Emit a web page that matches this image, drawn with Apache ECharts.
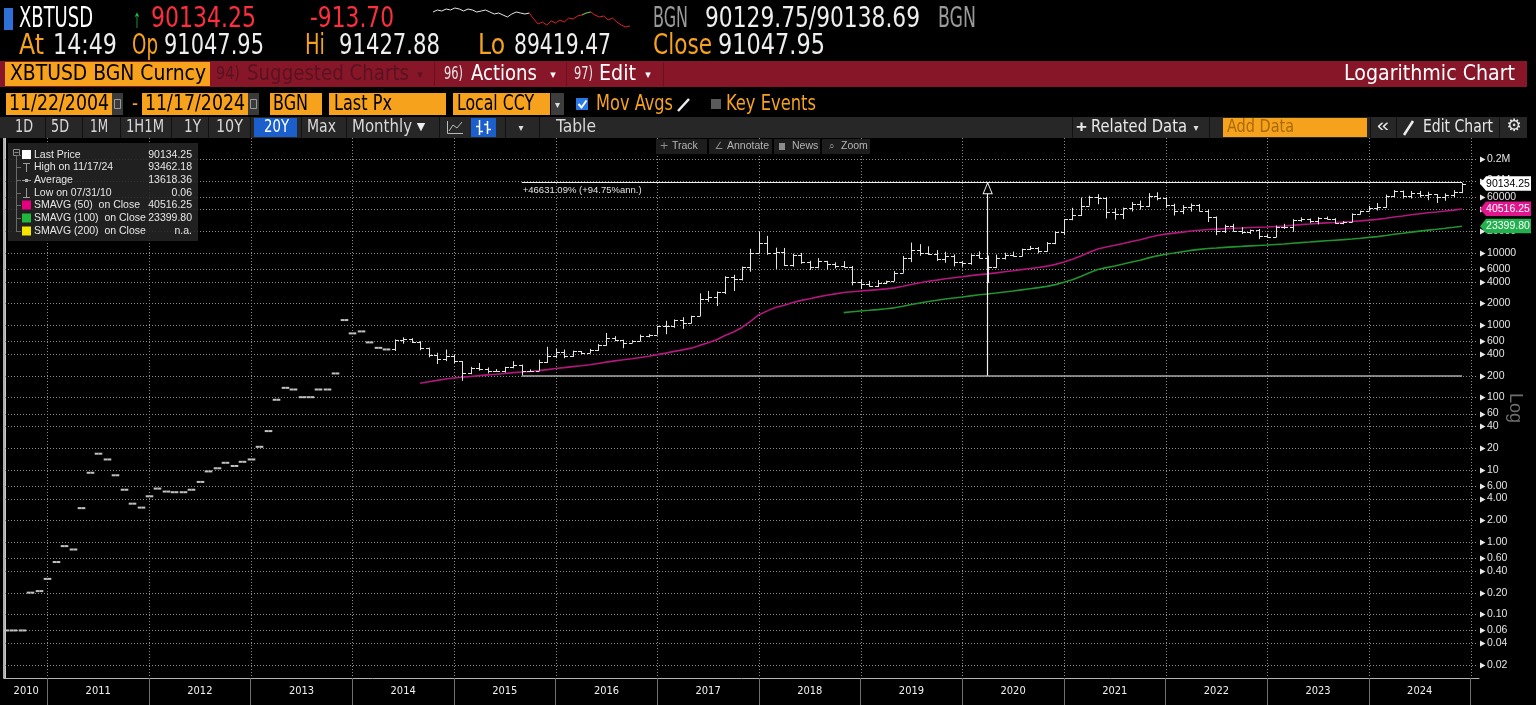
<!DOCTYPE html>
<html>
<head>
<meta charset="utf-8">
<title>XBTUSD Logarithmic Chart</title>
<script src="https://cdn.jsdelivr.net/npm/echarts@6.0.0/dist/echarts.min.js"></script>
<style>
html,body{margin:0;padding:0;background:#000;overflow:hidden;}
#chart{width:1536px;height:705px;}
</style>
</head>
<body>
<div id="chart"></div>
<script>
// ================= DATA (monthly bars, index 0 = Jul 2010 ... 172 = Nov 2024) =================
const closePx = [
0.06,0.06,0.06,0.20,0.21,0.31,
0.53,0.88,0.79,2.95,9.1,16.7,13.9,8.4,5.3,3.4,3.0,4.3,
5.5,5.0,4.9,4.9,5.3,6.8,9.5,10.5,12.5,11.3,12.9,13.9,
20.8,34.3,93,136,129,101,101,129,129,215,1177,770,
820,578,486,462,627,640,587,480,388,338,378,320,
217,254,244,236,230,263,284,230,236,314,378,430,
369,437,416,448,532,673,624,573,608,700,742,963,
970,1190,1080,1348,2300,2480,2870,4700,4340,6440,9950,13800,
10100,10300,6900,9240,7500,6390,7730,7030,6630,6320,4010,3740,
3450,3850,4100,5320,8560,10800,10080,9600,8290,9200,7560,7200,
9350,8600,6430,8630,9450,9140,11350,11660,10780,13800,19700,28990,
33100,45200,58800,57700,37300,35000,41500,47100,43800,61300,57000,46200,
38500,43200,45500,37700,31800,19900,23300,20000,19400,20500,17200,16550,
23100,23150,28500,29250,27200,30500,29250,25950,26950,34650,37700,42300,
42600,61200,71300,60700,67500,62700,64600,58900,63300,70200,90134.25];
const openPx = [
0.06,0.06,0.06,0.20,0.21,0.31,
0.53,0.88,0.79,2.95,9.1,16.7,13.9,8.4,5.3,3.4,3.0,4.3,
5.5,5.0,4.9,4.9,5.3,6.8,9.5,10.5,12.5,11.3,12.9,13.9,
20.8,34.3,93,136,129,101,101,129,129,215,1177,770,
820,578,486,462,462,627,640,587,480,388,338,378,
320,217,254,244,236,230,263,284,230,236,314,378,
430,369,437,416,448,532,673,624,573,608,700,742,
963,970,1190,1080,1348,2300,2480,2870,4700,4340,6440,9950,
13800,10100,10300,6900,9240,7500,6390,7730,7030,6630,6320,4010,
3740,3450,3850,4100,5320,8560,10800,10080,9600,8290,9200,7560,
7200,9350,8600,6430,8630,9450,9140,11350,11660,10780,13800,19700,
28990,33100,45200,58800,57700,37300,35000,41500,47100,43800,61300,57000,
46200,38500,43200,45500,37700,31800,19900,23300,20000,19400,20500,17200,
16550,23100,23150,28500,29250,27200,30500,29250,25950,26950,34650,37700,
42300,42600,61200,71300,60700,67500,62700,64600,58900,63300,70200];
const highPx = [
0.06,0.06,0.06,0.20,0.21,0.31,
0.53,0.88,0.79,2.95,9.1,16.7,13.9,8.4,5.3,3.4,3.0,4.3,
5.5,5.0,4.9,4.9,5.3,6.8,9.5,10.5,12.5,11.3,12.9,13.9,
20.8,34.3,93,136,129,101,101,129,129,215,1177,770,
820,578,486,462,635,680,660,600,490,415,460,390,
320,265,300,260,247,266,318,285,245,333,503,468,
460,445,440,470,548,780,705,628,620,740,752,980,
1150,1200,1290,1350,2760,2980,2920,4750,4980,6460,11400,19700,
17200,11800,11700,9750,9990,7760,8480,7760,7400,7680,6580,4290,
4100,4200,4130,5600,9070,13880,13200,12330,10900,10370,9510,7750,
9580,10500,9190,9470,10070,10400,11450,12470,12070,14100,19900,29300,
41950,58350,61800,64900,59500,41300,42300,50500,52900,67000,69000,59100,
47900,45800,48200,47400,39900,31900,24600,25200,22700,21000,21400,18400,
23900,25200,29200,31000,29800,31400,31800,30200,27500,35200,38400,44700,
48900,64000,73800,72800,71900,72000,70000,65000,66500,73600,93462.18];
const lowPx = [
0.06,0.06,0.06,0.20,0.21,0.31,
0.53,0.88,0.79,2.95,9.1,16.7,13.9,8.4,5.3,3.4,3.0,4.3,
5.5,5.0,4.9,4.9,5.3,6.8,9.5,10.5,12.5,11.3,12.9,13.9,
20.8,34.3,93,136,129,101,101,129,129,215,1177,770,
820,578,486,462,440,555,567,450,360,290,318,300,
170,210,235,215,228,221,253,200,226,235,300,350,
350,365,395,412,440,520,600,480,570,603,680,740,
750,920,890,1060,1340,2100,1840,2700,2970,4150,5500,9800,
9400,6000,6600,6450,7050,5800,6120,5880,6100,6200,3560,3160,
3400,3370,3700,4080,5300,7450,9100,9350,7750,7300,6520,6430,
6870,8450,3850,6150,8100,8900,8980,10930,9850,10400,13200,17600,
28200,32300,45000,47000,30000,28800,29300,37300,39600,43300,53300,42000,
32900,34300,37200,37600,26700,17600,18800,19600,18200,18300,15500,16300,
16500,21400,19600,26900,25800,24800,28900,25300,24900,26600,34100,37600,
38500,41900,59000,56500,56600,58400,53500,49000,52600,58900,66800];

// SMAVG(50) on Close, from month index 49 (Aug 2014)
const sma50Start = 49;
const sma50 = [
157.8,165.5,172.3,179.8,186.2,190.6,195.6,200.5,205.2,209.8,
215.0,220.5,224.8,229.2,235.3,242.8,251.3,258.6,267.3,275.5,
284.4,294.9,308.3,320.6,332.0,343.9,357.7,372.3,391.3,410.5,
434.0,455.2,481.5,525.6,572.5,627.3,719.3,804.1,930.3,1126.7,
1398.4,1576.9,1767.5,1889.1,2062.3,2202.6,2321.1,2463.2,2591.0,2711.9,
2828.7,2901.1,2969.1,3030.6,3101.2,3178.8,3280.2,3446.5,3657.8,3854.8,
4041.5,4201.6,4381.0,4527.5,4665.2,4844.7,5008.1,5129.3,5293.1,5473.8,
5647.7,5864.0,6083.8,6286.9,6551.4,6933.3,7499.1,8146.2,9031.0,10187.6,
11317.8,12042.2,12715.2,13499.2,14391.6,15210.2,16342.2,17395.4,18190.6,18761.6,
19349.6,20057.6,20605.6,21103.6,21316.8,21632.8,21905.0,22138.4,22407.8,22619.2,
22823.8,23205.6,23593.8,24094.8,24602.8,25064.8,25568.4,25982.2,26285.2,26622.6,
27123.6,27711.8,28373.8,29074.6,30154.6,31393.6,32435.6,33657.0,34738.4,35841.4,
36836.6,37875.6,39046.4,40516.25];
// SMAVG(100) on Close, from month index 99 (Oct 2018)
const sma100Start = 99;
const sma100 = [
1493.2,1533.3,1570.7,1605.2,1643.7,1684.7,1737.9,1823.5,1931.5,2032.3,
2128.3,2211.1,2302.9,2378.4,2450.3,2543.7,2629.7,2694.0,2780.2,2874.7,
2966.0,3079.5,3196.0,3303.8,3441.7,3638.6,3928.4,4259.3,4711.1,5299.0,
5875.9,6248.7,6598.3,7012.4,7482.0,7918.8,8530.7,9099.7,9560.4,9944.2,
10374.0,10817.2,11186.5,11496.3,11689.6,11917.7,12113.1,12300.8,12499.4,12665.5,
12826.2,13053.4,13281.5,13562.7,13852.0,14121.8,14424.3,14714.3,14971.5,15238.7,
15582.6,15956.7,16377.4,16801.1,17410.0,18119.1,18721.8,19393.1,20015.8,20657.6,
21242.1,21869.8,22565.1,23399.80];

// legend / tag values
const lastPrice = 90134.25, highPrice = 93462.18, avgPrice = 13618.36, lowPrice = 0.06;
const sma50Last = 40516.25, sma100Last = 23399.80;

// annotation (low-to-high measurement)
const annoStart = 61, annoEnd = 172, annoArrowX = 116;
const annoLow = 200.0, annoHigh = 93462.18;
const annoText = '+46631.09% (+94.75%ann.)';

// axes
const yTicks = [0.02,0.04,0.06,0.1,0.2,0.4,0.6,1,2,4,6,10,20,40,60,100,200,400,600,1000,2000,4000,6000,10000,20000,40000,60000,100000,200000];
const yTickLabels = ['0.02','0.04','0.06','0.10','0.20','0.40','0.60','1.00','2.00','4.00','6.00','10','20','40','60','100','200','400','600','1000','2000','4000','6000','10000','20000','40000','60000','0.1M','0.2M'];
const yearEnds = [5,17,29,41,53,65,77,89,101,113,125,137,149,161,173];
const yearLabelPos = [2.5,11,23,35,47,59,71,83,95,107,119,131,143,155,167];
const yearLabels = ['2010','2011','2012','2013','2014','2015','2016','2017','2018','2019','2020','2021','2022','2023','2024'];

// intraday sparkline in header
const sparkWhite = [17,19,18,20,19,21,20,18,20,19,17,18,19,17,15,16,14,12,15,17,16,15,16];
const sparkRedStart = 22;
const sparkRed = [16,10,5,7,4,8,6,9,7,11,10,13,14,16,17,14,12,13,9,11,7,4,2,3];
const sparkGreenStart = 34;
const sparkGreen = [14,16,17];

// ================= CHART =================
const chart = echarts.init(document.getElementById('chart'), null, {renderer:'canvas', width:1536, height:705});
const HF = "'Liberation Sans Narrow','DejaVu Sans Condensed','Liberation Sans',sans-serif";
const LF = "'Liberation Sans','Noto Sans',sans-serif";
const ORANGE = '#f6a21c';
const GRID_COLOR = '#8a8a8a';

const ohlcData = closePx.map((c, i) => [i, openPx[i], highPx[i], lowPx[i], c]);
const sma50Data = sma50.map((v, k) => [k + sma50Start, v]);
const sma100Data = sma100.map((v, k) => [k + sma100Start, v]);
const sparkWhiteData = sparkWhite.map((v, k) => [k, v]);
const sparkRedData = sparkRed.map((v, k) => [k + sparkRedStart, v]);
const sparkGreenData = sparkGreen.map((v, k) => [k + sparkGreenStart, v]);

function renderOHLC(params, api) {
  const i = api.value(0);
  const o = api.value(1), h = api.value(2), l = api.value(3), c = api.value(4);
  const pO = api.coord([i, o]), pH = api.coord([i, h]), pL = api.coord([i, l]), pC = api.coord([i, c]);
  const x = Math.round(pO[0]) + 0.5;
  const flat = (h === l);
  const st = {stroke: flat ? '#c2c2c2' : '#e4e4e4', lineWidth: flat ? 2 : 1};
  const w = flat ? 3.8 : 3.5;
  const yo = flat ? pO[1] : Math.round(pO[1]) + 0.5;
  const yc = flat ? pC[1] : Math.round(pC[1]) + 0.5;
  const ch = [];
  if (!flat) ch.push({type:'line', shape:{x1:x, y1:pH[1], x2:x, y2:pL[1]}, style:st});
  ch.push({type:'line', shape:{x1:x - w, y1:yo, x2:x, y2:yo}, style:st});
  ch.push({type:'line', shape:{x1:x, y1:yc, x2:x + w, y2:yc}, style:st});
  return {type:'group', children:ch};
}

// dotted grid lines (and right-axis tick arrows) at the axis tick values, placed through the axis scales
function renderGrid(params, api) {
  const kind = api.value(0), v = api.value(1);
  const cs = params.coordSys;
  const dotted = {stroke:GRID_COLOR, lineWidth:1, lineDash:[1, 2]};
  if (kind === 0) {
    const y = Math.round(api.coord([0, v])[1]) + 0.5;
    const xr = cs.x + cs.width;
    return {type:'group', children:[
      {type:'line', shape:{x1:cs.x + 1, y1:y, x2:xr - 1, y2:y}, style:dotted},
      {type:'polygon', shape:{points:[[xr + 1, y - 3], [xr + 6.5, y], [xr + 1, y + 3]]}, style:{fill:'#e8e8e8'}}
    ]};
  }
  const x = Math.round(api.coord([v, 1])[0]) + 0.5;
  return {type:'line', shape:{x1:x, y1:cs.y, x2:x, y2:cs.y + cs.height}, style:dotted};
}
const gridData = yTicks.map(v => [0, v]).concat(yearEnds.map(v => [1, v]));

function nearestIdx(arr, v, logMode) {
  let best = 0, bd = Infinity;
  arr.forEach((t, k) => { const d = logMode ? Math.abs(Math.log(v / t)) : Math.abs(v - t); if (d < bd) { bd = d; best = k; } });
  return best;
}

const yMin = 0.0132, yMax = 388000;

chart.setOption({
  backgroundColor:'#000',
  animation:false,
  grid:[
    {left:4, right:57, top:138, bottom:27, containLabel:false},
    {left:433, top:5, width:197, height:24}
  ],
  xAxis:[
    {type:'value', gridIndex:0, min:-0.12, max:174,
     axisLine:{show:true, lineStyle:{color:'#b4b4b4', width:1}},
     axisTick:{show:true, customValues:yearEnds, length:27, lineStyle:{color:'#6e6e6e'}},
     axisLabel:{show:true, customValues:yearLabelPos, margin:8, color:'#f0f0f0', fontSize:11, fontFamily:HF,
       formatter:v => yearLabels[nearestIdx(yearLabelPos, v, false)]},
     splitLine:{show:false}},
    {type:'value', gridIndex:1, min:0, max:45, show:false}
  ],
  yAxis:[
    {type:'log', logBase:10, gridIndex:0, min:yMin, max:yMax, position:'right',
     axisLine:{show:true, lineStyle:{color:'#c8c8c8', width:1}},
     axisTick:{show:false},
     axisLabel:{show:true, customValues:yTicks, margin:8, color:'#e4e4e4', fontSize:10.5, fontFamily:LF,
       formatter:v => yTickLabels[nearestIdx(yTicks, v, true)]},
     splitLine:{show:false}},
    {type:'log', logBase:10, gridIndex:0, min:yMin, max:yMax, position:'left',
     axisLine:{show:true, lineStyle:{color:'#e8e8e8', width:1.5}},
     axisTick:{show:false}, axisLabel:{show:false}, splitLine:{show:false}, minorTick:{show:false}},
    {type:'value', gridIndex:1, min:0, max:24, show:false}
  ],
  series:[
    {type:'custom', name:'grid', xAxisIndex:0, yAxisIndex:0, data:gridData, renderItem:renderGrid,
     encode:{x:-1, y:-1}, clip:false, z:1, silent:true},
    {type:'custom', name:'Last Price', xAxisIndex:0, yAxisIndex:0, data:ohlcData,
     encode:{x:0, y:[1,2,3,4]}, renderItem:renderOHLC, clip:true, z:4, silent:true},
    {type:'line', name:'SMAVG (50)', xAxisIndex:0, yAxisIndex:0, data:sma50Data, symbol:'none',
     lineStyle:{color:'#b3177d', width:1.6}, z:3, silent:true,
     markLine:{silent:true, symbol:['none','none'], animation:false, label:{show:false},
       data:[
         [{coord:[annoStart, annoLow], lineStyle:{color:'#a9a9a9', width:1.6, type:'solid'}}, {coord:[annoEnd, annoLow]}],
         [{coord:[annoStart, annoHigh], lineStyle:{color:'#efefef', width:1, type:'solid'},
           label:{show:true, position:'insideStartBottom', formatter:annoText, color:'#e2e2e2', fontSize:9.5, fontFamily:LF, distance:[1,3]}},
          {coord:[annoEnd, annoHigh]}],
         [{coord:[annoArrowX, annoLow], lineStyle:{color:'#efefef', width:1.2, type:'solid'}}, {coord:[annoArrowX, annoHigh]}]
       ]},
     markPoint:{silent:true, animation:false, symbol:'triangle', symbolSize:[9,11], symbolOffset:[0,'50%'],
       itemStyle:{color:'#000', borderColor:'#efefef', borderWidth:1}, label:{show:false},
       data:[{coord:[annoArrowX, annoHigh]}]}},
    {type:'line', name:'SMAVG (100)', xAxisIndex:0, yAxisIndex:0, data:sma100Data, symbol:'none',
     lineStyle:{color:'#21932f', width:1.6}, z:3, silent:true},
    {type:'line', xAxisIndex:1, yAxisIndex:2, data:sparkWhiteData, symbol:'none', lineStyle:{color:'#e6e6e6', width:1}, silent:true},
    {type:'line', xAxisIndex:1, yAxisIndex:2, data:sparkRedData, symbol:'none', lineStyle:{color:'#e0202a', width:1}, silent:true},
    {type:'line', xAxisIndex:1, yAxisIndex:2, data:sparkGreenData, symbol:'none', lineStyle:{color:'#3bd24a', width:1}, silent:true, z:5}
  ]
});

// ================= GRAPHIC (terminal chrome, legend, tags) =================
const mctx = document.createElement('canvas').getContext('2d');
const G = [];
function R(x, y, w, h, fill, extra) { G.push(Object.assign({type:'rect', shape:{x:x, y:y, width:w, height:h}, style:{fill:fill}, silent:true, z:10}, extra || {})); }
function L(x1, y1, x2, y2, stroke, lw) { G.push({type:'line', shape:{x1:x1, y1:y1, x2:x2, y2:y2}, style:{stroke:stroke, lineWidth:lw || 1}, silent:true, z:11}); }
function PL(points, stroke, lw) { G.push({type:'polyline', shape:{points:points}, style:{stroke:stroke, lineWidth:lw || 1, fill:null}, silent:true, z:11}); }
function FT(text, x1, x2, cy, size, fill, fam, weight) {
  const font = (weight || 'normal') + ' ' + size + 'px ' + (fam || HF);
  mctx.font = font;
  const w = mctx.measureText(text).width || 1;
  G.push({type:'text', x:x1, y:cy, scaleX:(x2 - x1) / w, silent:true, z:12,
    style:{text:text, font:font, fill:fill, align:'left', verticalAlign:'middle', textAlign:'left', textVerticalAlign:'middle'}});
}
function T(text, x, cy, size, fill, align, fam, extra) {
  G.push(Object.assign({type:'text', x:x, y:cy, silent:true, z:12,
    style:{text:text, font:size + 'px ' + (fam || LF), fill:fill, align:align || 'left', verticalAlign:'middle', textAlign:align || 'left', textVerticalAlign:'middle'}}, extra || {}));
}

// Row 1
const R1 = 19.5, R2 = 47;
R(4, 8, 9, 22, '#2e6fd8');
FT('XBTUSD', 19, 93, R1, 28, '#ffffff');
FT('\u2191', 133, 141, R1, 26, '#27c43e', LF);
FT('90134.25', 151, 256, R1, 28, '#ff2e3e');
FT('-913.70', 310, 394, R1, 28, '#ff2e3e');
FT('BGN', 653, 688, R1, 28, '#9a9a9a');
FT('90129.75/90138.69', 705, 920, R1, 28, '#eeeeee');
FT('BGN', 938, 976, R1, 28, '#9a9a9a');
// Row 2
FT('At', 19, 44, R2, 28, ORANGE);
FT('14:49', 53, 117, R2, 28, '#eeeeee');
FT('Op', 132, 158, R2, 28, ORANGE);
FT('91047.95', 164, 264, R2, 28, '#eeeeee');
FT('Hi', 305, 325, R2, 28, ORANGE);
FT('91427.88', 339, 440, R2, 28, '#eeeeee');
FT('Lo', 478, 505, R2, 28, ORANGE);
FT('89419.47', 514, 611, R2, 28, '#eeeeee');
FT('Close', 653, 712, R2, 28, ORANGE);
FT('91047.95', 718, 825, R2, 28, '#eeeeee');

// Row 3 (red menu bar)
R(0, 61, 1527, 26, '#861628');
R(5, 62, 205, 24, ORANGE);
FT('XBTUSD BGN Curncy', 10, 206, 74, 22, '#000000');
FT('94)', 216, 240, 74, 18, '#5a1220');
FT('Suggested Charts', 247, 409, 74, 22, '#5a1220');
T('\u25BE', 420, 75, 11, '#5a1220', 'center', 'DejaVu Sans');
L(434.5, 62, 434.5, 86, '#6a0f1e');
FT('96)', 444, 463, 74, 18, '#e6e6e6');
FT('Actions', 471, 537, 74, 22, '#ffffff');
T('\u25BE', 553, 75, 11, '#ffffff', 'center', 'DejaVu Sans');
L(566.5, 62, 566.5, 86, '#6a0f1e');
FT('97)', 574, 593, 74, 18, '#e6e6e6');
FT('Edit', 599, 636, 74, 22, '#ffffff');
T('\u25BE', 648, 75, 11, '#ffffff', 'center', 'DejaVu Sans');
L(663.5, 62, 663.5, 86, '#6a0f1e');
FT('Logarithmic Chart', 1344, 1515, 74, 22, '#ffffff');

// Row 4 (inputs)
R(6, 93, 106, 22, ORANGE);
FT('11/22/2004', 9, 109, 104, 22, '#000000');
R(112, 93, 11, 22, '#3a3a3a');
G.push({type:'rect', shape:{x:114.5, y:99.5, width:6, height:9}, style:{fill:null, stroke:'#9a9a9a', lineWidth:1}, silent:true, z:11});
FT('-', 132, 138, 104, 22, ORANGE);
R(142, 93, 106, 22, ORANGE);
FT('11/17/2024', 145, 245, 104, 22, '#000000');
R(248, 93, 11, 22, '#3a3a3a');
G.push({type:'rect', shape:{x:250.5, y:99.5, width:6, height:9}, style:{fill:null, stroke:'#9a9a9a', lineWidth:1}, silent:true, z:11});
R(270, 93, 52, 22, ORANGE);
FT('BGN', 273, 308, 104, 22, '#000000');
R(329, 93, 117, 22, ORANGE);
FT('Last Px', 334, 392, 104, 22, '#000000');
R(453, 93, 97, 22, ORANGE);
FT('Local CCY', 457, 534, 104, 22, '#000000');
R(551, 93, 13, 22, '#3d3d3d');
T('\u25BE', 557.5, 105, 10, '#dddddd', 'center', 'DejaVu Sans');
R(576, 98, 12, 12, '#2a78e4');
PL([[578.5, 104], [581.5, 107.5], [586.5, 100.5]], '#ffffff', 2);
FT('Mov Avgs', 596, 673, 104, 22, ORANGE);
L(678, 111, 689, 99, '#eeeeee', 2.5);
R(711, 99, 10, 10, '#5a5a5a');
FT('Key Events', 726, 816, 104, 22, ORANGE);

// Row 5 (toolbar)
R(0, 117, 1527, 21, '#272727');
[45, 82, 120, 171, 208, 250, 301, 346, 439, 505, 539, 1072, 1209, 1370, 1396, 1499].forEach(x => L(x + 0.5, 117, x + 0.5, 138, '#111111'));
FT('1D', 15, 33, 127.5, 17, '#d8d8d8');
FT('5D', 51, 69, 127.5, 17, '#d8d8d8');
FT('1M', 90, 108, 127.5, 17, '#d8d8d8');
FT('1H1M', 126, 164, 127.5, 17, '#d8d8d8');
FT('1Y', 184, 201, 127.5, 17, '#d8d8d8');
FT('10Y', 216, 243, 127.5, 17, '#d8d8d8');
R(254, 118, 43, 19, '#1b5fcc');
FT('20Y', 264, 289, 127.5, 17, '#ffffff');
FT('Max', 307, 336, 127.5, 17, '#d8d8d8');
FT('Monthly', 352, 412, 127.5, 17, '#d8d8d8');
T('\u25BC', 421, 127.5, 11, '#eeeeee', 'center', 'DejaVu Sans');
PL([[447.5, 121], [447.5, 133.5], [463, 133.5]], '#bbbbbb', 1);
PL([[449, 131], [453, 125], [457, 128], [462, 122]], '#bbbbbb', 1);
R(471, 118, 25, 19, '#1b5fcc');
L(479.5, 120, 479.5, 135, '#ffffff', 1.5); L(476, 126.5, 479.5, 126.5, '#ffffff', 1.5); L(479.5, 131.5, 483, 131.5, '#ffffff', 1.5);
L(487.5, 121, 487.5, 134, '#ffffff', 1.5); L(484, 124.5, 487.5, 124.5, '#ffffff', 1.5); L(487.5, 129.5, 491, 129.5, '#ffffff', 1.5);
T('\u25BE', 521, 128, 10, '#dddddd', 'center', 'DejaVu Sans');
FT('Table', 556, 596, 127.5, 17, '#d8d8d8');
FT('+', 1076, 1087, 127.5, 17, '#e8e8e8', LF, 'bold');
FT('Related Data', 1091, 1187, 127.5, 17, '#e8e8e8');
T('\u25BE', 1196, 128, 10, '#dddddd', 'center', 'DejaVu Sans');
R(1223, 118, 144, 19, ORANGE);
FT('Add Data', 1227, 1294, 127.5, 17, '#a86a08');
FT('\u00AB', 1377, 1389, 126.5, 18, '#e8e8e8', LF);
L(1404, 135, 1413, 121, '#eeeeee', 2.5);
FT('Edit Chart', 1423, 1493, 127.5, 17, '#e8e8e8');
T('\u2699', 1514, 127, 17, '#e8e8e8', 'center', 'DejaVu Sans');

// chart toolbar
R(656, 139, 51, 15, '#1d1d1d');
R(709, 139, 63, 15, '#1d1d1d');
R(774, 139, 46, 15, '#1d1d1d');
R(822, 139, 48, 15, '#1d1d1d');
T('+', 664, 146.5, 11, '#8c8c8c', 'center', 'DejaVu Sans');
T('Track', 672, 146.5, 10.5, '#b4b4b4');
T('\u2220', 719, 146.5, 10, '#8c8c8c', 'center', 'DejaVu Sans');
T('Annotate', 727, 146.5, 10.5, '#b4b4b4');
R(779, 143, 6, 7, '#8c8c8c');
T('News', 792, 146.5, 10.5, '#b4b4b4');
T('\u2315', 832, 146.5, 10, '#8c8c8c', 'center', 'DejaVu Sans');
T('Zoom', 841, 146.5, 10.5, '#b4b4b4');

// legend box
R(8, 143, 190, 98, 'rgba(36,36,36,0.88)');
G.push({type:'rect', shape:{x:13.5, y:149.5, width:6, height:6}, style:{fill:'#222', stroke:'#8a8a8a', lineWidth:1}, silent:true, z:11});
L(14.5, 152.5, 18.5, 152.5, '#8a8a8a');
L(16.5, 156, 16.5, 232, '#6a6a6a');
const legRows = [155, 167, 180, 193, 205, 218, 231];
legRows.forEach(y => L(16.5, y + 0.5, 21, y + 0.5, '#6a6a6a'));
R(22, 150, 9, 9, '#ffffff');
L(26.5, 163, 26.5, 172, '#9a9a9a'); L(23, 163.5, 30, 163.5, '#9a9a9a');
L(22, 180.5, 31, 180.5, '#9a9a9a'); R(25, 179, 3, 3, '#bdbdbd');
L(26.5, 188, 26.5, 197, '#9a9a9a'); L(23, 197.5, 30, 197.5, '#9a9a9a');
R(22, 200.5, 9, 9, '#e6007e');
R(22, 213.5, 9, 9, '#20b83c');
R(22, 226.5, 9, 9, '#f2e600');
const legNames = ['Last Price', 'High on 11/17/24', 'Average', 'Low on 07/31/10', 'SMAVG (50)  on Close', 'SMAVG (100)  on Close', 'SMAVG (200)  on Close'];
const legVals = [lastPrice.toFixed(2), highPrice.toFixed(2), avgPrice.toFixed(2), lowPrice.toFixed(2), sma50Last.toFixed(2), sma100Last.toFixed(2), 'n.a.'];
legNames.forEach((n, k) => { T(n, 34, legRows[k], 10.5, '#e6e6e6'); T(legVals[k], 192, legRows[k], 10.5, '#e6e6e6', 'right'); });

// "Log" axis caption
T('Log', 1515, 408, 18, '#6d6d6d', 'center', LF, {rotation:-Math.PI / 2});

// value tags on right axis (positions from the axis scale)
function tag(value, bg, fg) {
  const y = chart.convertToPixel({yAxisIndex:0}, value);
  G.push({type:'polygon', shape:{points:[[1480, y], [1486, y - 7.5], [1531, y - 7.5], [1531, y + 7], [1486, y + 7]]},
    style:{fill:bg}, silent:true, z:20});
  G.push({type:'text', x:1508, y:y, silent:true, z:21,
    style:{text:value.toFixed(2), font:'10.5px ' + LF, fill:fg, align:'center', verticalAlign:'middle', textAlign:'center', textVerticalAlign:'middle'}});
}
tag(lastPrice, '#ffffff', '#000000');
tag(sma50Last, '#e0168c', '#ffffff');
tag(sma100Last, '#22b14c', '#ffffff');

chart.setOption({graphic:{elements:G}});
</script>
</body>
</html>
